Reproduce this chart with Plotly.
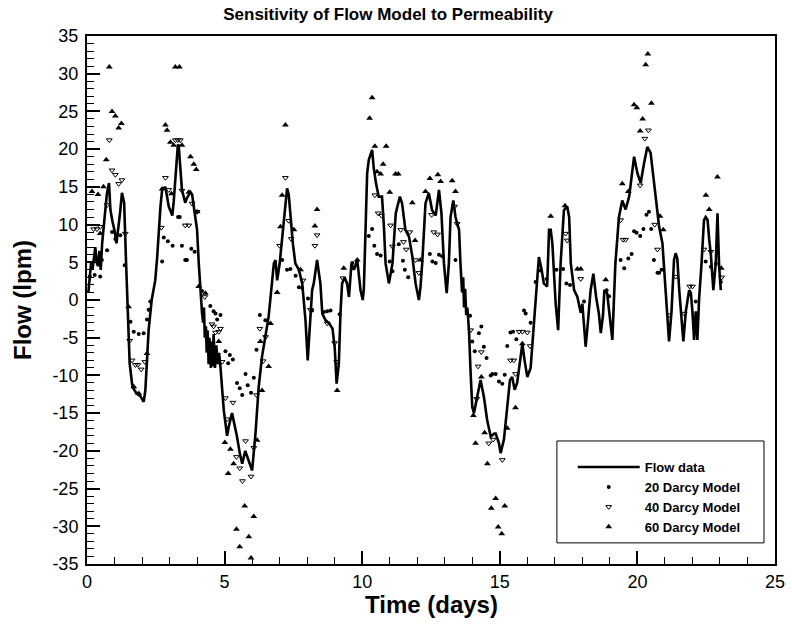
import plotly.graph_objects as go

# ---- data ----
flow_t = [0.05,0.1,0.15,0.2,0.25,0.3,0.35,0.4,0.45,0.5,0.55,0.6,0.65,0.72,0.8,0.85,0.92,1.0,1.07,1.12,
          1.2,1.27,1.35,1.42,1.5,1.55,1.65,1.8,1.95,2.06,2.12,2.18,2.24,2.35,2.48,2.55,2.6,2.67,2.73,2.85,
          2.97,3.1,3.15,3.2,3.3,3.33,3.39,3.45,3.57,3.63,3.76,3.82,3.88,4.0,4.06,4.12,4.18,4.22,4.25,4.28,
          4.32,4.35,4.38,4.42,4.45,4.5,4.53,4.57,4.6,4.65,4.7,4.75,4.8,4.85,4.97,5.09,5.15,5.27,5.33,5.45,
          5.55,5.64,5.75,5.88,6.0,6.12,6.24,6.36,6.48,6.6,6.73,6.79,6.85,6.91,7.0,7.09,7.21,7.27,7.33,7.39,
          7.48,7.57,7.7,7.82,7.94,8.02,8.09,8.18,8.24,8.36,8.48,8.55,8.67,8.8,8.92,9.0,9.07,9.15,9.21,9.27,
          9.36,9.45,9.52,9.61,9.7,9.82,9.94,10.02,10.06,10.12,10.18,10.24,10.36,10.42,10.5,10.6,10.72,10.79,10.85,10.97,
          11.1,11.22,11.37,11.45,11.57,11.7,11.82,11.94,12.06,12.12,12.18,12.3,12.42,12.54,12.67,12.79,12.88,12.97,13.07,13.15,
          13.21,13.31,13.39,13.45,13.52,13.57,13.63,13.67,13.7,13.74,13.78,13.82,13.88,13.94,14.0,14.06,14.18,14.3,14.42,14.54,
          14.67,14.8,14.85,14.97,15.03,15.15,15.27,15.37,15.45,15.54,15.63,15.73,15.82,15.9,16.0,16.12,16.24,16.36,16.42,16.52,
          16.6,16.72,16.79,16.85,16.91,17.03,17.12,17.21,17.33,17.45,17.52,17.58,17.7,17.82,17.94,18.0,18.06,18.12,18.2,18.3,
          18.4,18.5,18.6,18.67,18.75,18.8,18.9,19.0,19.09,19.2,19.33,19.45,19.57,19.7,19.82,19.88,20.0,20.12,20.24,20.36,
          20.48,20.55,20.67,20.79,20.91,21.0,21.09,21.15,21.24,21.33,21.39,21.45,21.52,21.6,21.67,21.76,21.88,21.94,22.0,22.06,
          22.12,22.18,22.24,22.33,22.42,22.48,22.55,22.61,22.67,22.76,22.85,22.91,22.97,23.03]
flow_v = [1.0,3.5,5.0,4.0,6.0,7.0,5.0,4.5,6.5,4.0,7.5,9.5,11.5,14.0,15.5,12.0,10.5,9.2,7.5,8.8,
          11.5,14.2,12.9,4.9,-4.0,-8.4,-11.5,-12.4,-12.8,-13.5,-12.0,-8.4,-4.0,0.0,2.6,5.7,9.3,12.4,14.6,15.0,
          12.4,11.2,13.0,16.0,20.5,20.6,18.1,14.6,12.9,13.5,14.3,14.0,12.4,9.3,4.9,0.9,-1.7,-3.0,-1.0,-5.0,
          -3.5,-7.0,-4.0,-8.5,-5.0,-9.0,-5.5,-8.8,-4.5,-9.0,-6.0,-8.5,-7.0,-8.9,-14.6,-18.0,-16.8,-15.0,-16.0,-18.1,
          -20.3,-21.7,-20.0,-21.5,-22.6,-17.8,-11.5,-7.5,-4.9,-2.2,2.6,4.85,5.3,2.6,4.8,8.4,13.2,14.8,14.0,11.0,
          7.5,4.85,4.0,2.2,-2.7,-8.0,-4.3,1.3,2.2,5.3,2.2,-1.8,-2.7,-3.1,-3.8,-6.2,-11.1,-8.5,-1.8,2.2,
          3.0,2.2,0.4,4.85,4.0,5.3,1.3,0.0,1.5,10.2,16.8,18.6,19.9,17.5,15.5,13.7,13.7,9.7,4.85,2.2,
          4.85,11.5,13.7,12.8,9.3,8.4,5.8,2.2,0.0,1.8,4.85,12.8,14.2,11.9,11.2,14.6,11.5,4.85,0.9,4.85,
          11.0,13.2,11.0,10.2,9.3,4.85,1.0,3.0,-1.0,1.5,-2.0,-1.0,-4.0,-9.7,-14.2,-15.0,-12.8,-10.6,-12.8,-15.9,
          -18.1,-17.7,-17.7,-19.0,-20.3,-18.5,-14.2,-10.6,-10.2,-11.9,-11.0,-8.4,-5.8,-8.0,-10.2,-9.0,-2.7,2.2,5.7,4.0,
          2.2,1.8,9.3,9.3,7.5,-0.5,-4.0,4.85,11.9,12.4,11.0,4.85,1.3,0.4,-1.7,-0.5,-3.0,-6.2,-3.0,1.3,
          3.5,0.4,-1.8,-4.4,-2.0,1.3,0.9,-2.0,-5.3,4.85,11.0,13.2,12.0,13.7,17.2,19.0,16.8,15.5,18.1,20.3,
          19.5,17.2,13.7,9.7,7.5,2.2,-2.2,-5.5,-1.5,5.3,6.2,5.5,1.3,-3.1,-5.5,-1.5,1.3,1.0,-1.5,-5.3,
          -1.5,-5.3,0.0,4.85,10.6,11.0,10.6,8.0,6.0,1.3,5.0,11.5,4.5,1.3]

d20_t = [0.10,0.28,0.48,0.54,0.73,0.91,1.03,1.21,1.37,1.58,1.70,1.88,2.06,2.18,2.24,2.30,2.73,2.79,2.94,3.11,
         3.31,3.37,3.45,3.57,3.63,3.79,3.91,4.18,4.48,4.60,4.67,4.73,4.85,5.03,5.13,5.19,5.30,5.45,5.55,5.64,
         5.76,5.84,5.96,6.06,6.16,6.28,6.48,7.09,7.27,7.39,7.58,7.70,7.82,8.03,8.18,8.61,8.73,8.85,9.18,9.64,
         10.24,10.36,10.44,10.54,10.67,11.00,11.10,11.33,11.48,11.55,11.67,12.46,12.55,12.67,12.79,12.91,13.39,13.92,14.00,14.09,
         14.24,14.33,14.42,14.52,14.67,14.73,14.85,14.97,15.09,15.18,15.27,15.39,15.48,15.60,15.88,15.94,16.12,16.30,16.48,16.70,
         17.06,17.30,17.42,17.55,18.06,18.88,18.97,19.39,19.52,19.67,19.79,19.88,19.97,20.10,20.22,20.33,20.42,20.50,20.60,20.73,
         20.79,20.88,22.12,22.48,22.67,22.85,23.03]
d20_v = [3.1,3.3,3.1,5.3,6.6,9.0,8.1,8.6,4.6,-2.9,-4.2,-4.5,-4.4,-2.6,-1.3,-0.2,5.1,8.3,7.8,7.2,
         11.0,11.0,7.2,5.3,5.3,6.8,6.4,1.2,-0.8,-1.5,-1.8,-2.6,-2.0,-6.8,-8.4,-7.3,-7.9,-11.0,-11.7,-12.6,
         -9.8,-11.3,-12.3,-10.3,-6.6,-2.0,-2.7,5.3,4.0,4.1,3.2,1.7,1.6,0.2,-1.4,-1.6,-1.5,-1.4,-1.9,4.9,
         8.5,9.4,7.2,6.1,5.9,5.1,3.8,7.4,5.2,4.0,3.0,6.1,5.1,4.9,6.0,5.8,5.3,-2.1,-5.5,-6.8,
         -4.4,-3.5,-6.2,-7.7,-10.0,-9.8,-9.8,-10.8,-11.1,-9.9,-6.1,-4.3,-4.2,-5.2,-1.4,-1.8,-3.0,2.4,3.9,2.8,
         4.0,4.1,2.2,2.0,-0.2,1.3,0.5,5.3,4.2,5.5,6.1,9.1,8.9,8.5,9.4,11.3,11.7,9.4,5.3,3.6,
         3.6,4.0,-0.2,5.1,4.4,4.8,2.4]

d40_t = [0.24,0.36,0.48,0.73,0.81,0.91,1.03,1.15,1.27,1.39,1.55,1.64,1.76,1.85,1.97,2.10,2.70,2.85,2.97,3.21,
         3.30,3.39,3.45,3.57,3.70,3.82,4.00,4.28,4.54,4.60,4.67,4.79,4.85,4.91,5.03,5.09,5.30,5.43,5.55,5.65,
         5.76,5.96,6.06,6.16,6.28,6.40,6.49,7.00,7.21,7.33,7.42,7.85,8.12,8.28,8.36,8.73,9.00,9.07,9.30,10.46,
         10.58,10.70,11.03,11.10,11.40,11.50,11.60,11.73,11.94,12.06,12.52,12.60,12.74,13.36,13.45,13.94,14.16,14.21,14.33,14.60,
         14.76,15.09,15.39,15.51,15.57,15.70,15.82,16.00,16.10,17.39,17.45,17.94,19.39,19.48,19.57,20.10,20.27,20.40,20.63,20.73,
         21.15,21.39,21.70,21.90,22.00,22.42,22.67,23.06]
d40_v = [9.4,9.4,9.7,12.6,21.2,17.2,16.6,15.4,15.9,8.8,-5.4,-8.0,-8.6,-8.6,-9.2,-8.2,9.6,16.2,14.6,21.2,
         21.2,21.2,14.5,9.9,9.9,12.8,11.7,0.4,-3.2,-3.5,-4.3,-4.2,-3.8,-8.2,-13.0,-15.8,-13.6,-20.8,-22.3,-24.0,
         -18.7,-23.4,-19.6,-12.6,-3.8,-8.1,-4.9,7.2,16.2,10.5,8.1,2.6,-1.3,7.2,8.6,-3.1,-5.7,-8.2,2.9,13.9,
         11.5,11.2,9.9,7.1,9.3,7.7,6.7,9.0,5.3,3.6,11.3,9.0,8.7,12.4,10.1,-4.0,-13.1,-8.8,-6.9,-19.0,
         -18.5,-21.2,-8.0,-8.0,-9.8,-4.2,-4.2,-4.3,-6.1,8.8,7.9,2.8,10.6,8.0,8.0,15.2,21.4,22.5,10.0,6.7,
         -2.0,3.1,-1.8,1.8,1.8,6.7,6.4,3.0]

d60_t = [0.18,0.40,0.48,0.60,0.70,0.81,0.91,1.03,1.15,1.25,1.51,1.70,1.88,2.18,2.73,2.85,2.91,3.03,3.07,3.15,
         3.21,3.36,3.45,3.70,3.76,3.88,3.97,4.00,4.06,4.30,4.79,5.01,5.13,5.21,5.33,5.43,5.55,5.73,5.88,5.96,
         6.06,6.18,6.30,6.36,6.60,6.67,6.91,7.03,7.09,7.21,7.52,7.76,8.28,8.36,9.09,9.33,9.82,10.27,10.36,10.46,
         10.54,10.67,10.76,10.87,11.00,11.21,11.31,11.82,11.92,12.12,12.30,12.46,12.75,12.85,13.27,13.39,14.04,14.12,14.33,14.45,
         14.55,14.69,14.85,14.94,15.07,15.18,15.27,15.57,15.82,16.85,17.37,17.82,17.94,18.85,19.45,19.67,19.88,19.98,20.10,20.19,
         20.30,20.38,20.51,20.82,20.94,22.49,22.61,22.91,23.05]
d60_v = [14.4,14.0,8.8,15.0,18.6,30.9,25.0,24.4,22.8,23.4,-0.9,-11.5,-12.4,-7.1,14.7,23.2,22.5,20.9,14.1,20.5,
         30.9,30.9,20.5,14.3,19.0,18.0,17.3,11.7,1.8,0.9,-5.5,-18.9,-23.0,-19.8,-21.7,-30.4,-32.7,-27.3,-31.4,-34.2,
         -28.7,-18.6,-5.5,-12.0,-8.8,-3.1,1.0,9.7,13.9,23.2,9.3,4.0,9.8,12.0,-12.0,4.2,5.3,24.1,26.8,20.4,
         17.0,16.7,18.0,20.4,14.3,16.7,16.7,12.9,7.9,5.3,14.4,16.1,16.6,15.7,15.8,14.4,-15.3,-19.0,-10.2,-17.6,
         -21.7,-27.6,-26.3,-30.1,-31.0,-27.3,-17.0,-14.3,-5.8,11.1,12.5,4.1,4.1,2.7,15.4,14.4,25.9,25.5,22.4,24.0,
         31.2,32.6,26.1,11.1,9.3,13.9,12.0,16.3,4.2]

x_ticks = [0, 5, 10, 15, 20, 25]
x_ticktext = ["0", "5", "10", "15", "20", "25"]
y_ticks = [35, 30, 25, 20, 15, 10, 5, 0, -5, -10, -15, -20, -25, -30, -35]
y_ticktext = ["35", "30", "25", "20", "15", "10", "5", "0", "-5", "-10", "-15", "-20", "-25", "-30", "-35"]

FONT = "Liberation Sans, Arial, sans-serif"

fig = go.Figure()
fig.add_trace(go.Scatter(x=flow_t, y=flow_v, mode="lines", name="Flow data",
                         line=dict(color="black", width=2.6)))
fig.add_trace(go.Scatter(x=d20_t, y=d20_v, mode="markers", name="20 Darcy Model",
                         marker=dict(symbol="circle", size=4, color="black")))
fig.add_trace(go.Scatter(x=d40_t, y=d40_v, mode="markers", name="40 Darcy Model",
                         marker=dict(symbol="triangle-down-open", size=5, color="black",
                                     line=dict(width=1, color="black"))))
fig.add_trace(go.Scatter(x=d60_t, y=d60_v, mode="markers", name="60 Darcy Model",
                         marker=dict(symbol="triangle-up", size=6, color="black")))

axis_common = dict(showline=True, linecolor="black", linewidth=2, mirror=True, automargin=False,
                   showgrid=False, zeroline=False, ticks="inside", ticklen=13, tickwidth=1.5,
                   tickcolor="black", tickfont=dict(family=FONT, size=18, color="black"))

fig.update_xaxes(range=[0, 25], tickvals=x_ticks, ticktext=x_ticktext,
                 minor=dict(dtick=1, ticks="inside", ticklen=7, tickcolor="black", tickwidth=1),
                 **axis_common)
fig.update_yaxes(range=[-35, 35], tickvals=y_ticks, ticktext=y_ticktext, ticklabelstandoff=3,
                 minor=dict(dtick=1, ticks="inside", ticklen=7, tickcolor="black", tickwidth=1),
                 **axis_common)

fig.add_shape(type="rect", xref="paper", yref="paper", x0=0.683, x1=0.984, y0=0.040, y1=0.233,
              line=dict(color="black", width=1), fillcolor="white", layer="below")

# axis titles
fig.add_annotation(text="<b>Time (days)</b>", xref="paper", yref="paper", x=0.5, y=-0.0758,
                   xanchor="center", yanchor="middle", showarrow=False,
                   font=dict(family=FONT, size=24, color="black"))
fig.add_annotation(text="<b>Flow (lpm)</b>", xref="paper", yref="paper", x=-0.0945, y=0.5,
                   xanchor="center", yanchor="middle", textangle=-90, showarrow=False,
                   font=dict(family=FONT, size=24, color="black"))

fig.update_layout(
    width=792, height=624,
    margin=dict(l=87, r=17, t=36, b=60),
    paper_bgcolor="white", plot_bgcolor="white",
    title=dict(text="<b>Sensitivity of Flow Model to Permeability</b>", x=0.49, xanchor="center",
               y=0.9776, yanchor="middle", font=dict(family=FONT, size=17, color="black")),
    legend=dict(x=0.706, y=0.212, xanchor="left", yanchor="top", bgcolor="rgba(0,0,0,0)",
                borderwidth=0, itemwidth=62, tracegroupgap=0,
                font=dict(family=FONT, size=13, color="black", weight="bold")),
    showlegend=True,
)

# remove the browser's default page margin so the 792x624 figure fills the window exactly
fig.write_html("out.html",
               config={"displayModeBar": False},
               post_script="document.body.style.margin='0px';document.body.style.padding='0px';"
                           "document.body.style.overflow='hidden';")
